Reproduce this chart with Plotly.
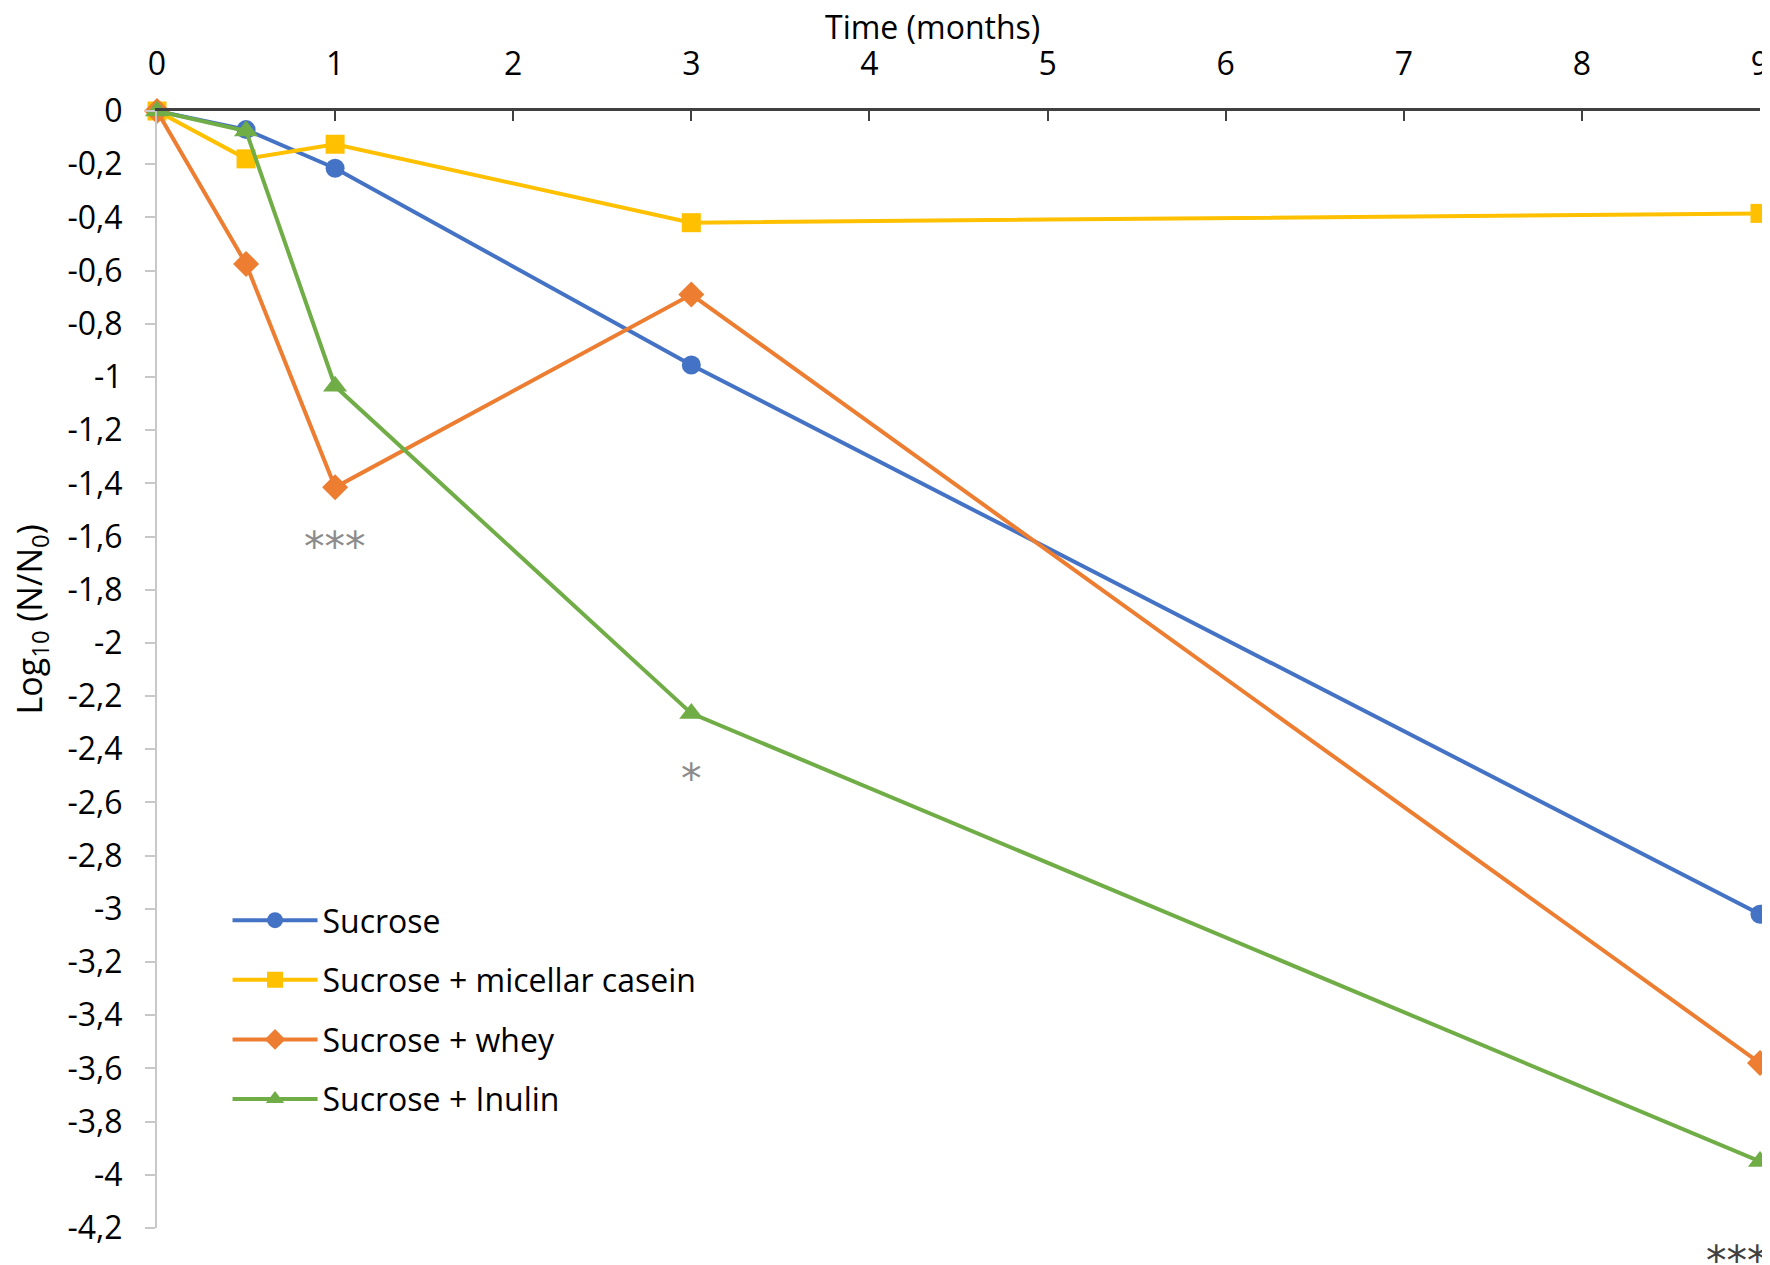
import plotly.graph_objects as go

months = [0, 0.5, 1, 3, 9]
sucrose = [0, -0.07, -0.215, -0.955, -3.02]
casein = [0, -0.18, -0.125, -0.42, -0.385]
whey = [0, -0.575, -1.415, -0.69, -3.58]
inulin = [0, -0.075, -1.035, -2.265, -3.95]

series_names = ["Sucrose", "Sucrose + micellar casein", "Sucrose + whey", "Sucrose + Inulin"]
series_values = [sucrose, casein, whey, inulin]
colors = ["#4472C4", "#FFC000", "#ED7D31", "#70AD47"]
symbols = ["circle", "square", "diamond", "triangle-up"]
sizes = [19, 19, 20, 21]

x_ticks = [0, 1, 2, 3, 4, 5, 6, 7, 8, 9]
y_tickvals = [0, -0.2, -0.4, -0.6, -0.8, -1, -1.2, -1.4, -1.6, -1.8, -2, -2.2, -2.4,
              -2.6, -2.8, -3, -3.2, -3.4, -3.6, -3.8, -4, -4.2]
y_ticktext = ["0", "-0,2", "-0,4", "-0,6", "-0,8", "-1", "-1,2", "-1,4", "-1,6", "-1,8",
              "-2", "-2,2", "-2,4", "-2,6", "-2,8", "-3", "-3,2", "-3,4", "-3,6", "-3,8",
              "-4", "-4,2"]

# significance marks: x in months, y in data units (or paper units for the last one)
sig_x = [1, 3, 8.87]
sig_y = [-1.64, -2.51, -0.053]
sig_yref = ["y", "y", "paper"]
sig_text = ["***", "*", "***"]
sig_color = ["#8c8c8c", "#8c8c8c", "#404040"]

FONT = "Open Sans"

fig = go.Figure()
for name, vals, c, s, sz in zip(series_names, series_values, colors, symbols, sizes):
    fig.add_trace(go.Scatter(
        x=months, y=vals, name=name, mode="lines+markers",
        line=dict(color=c, width=4),
        marker=dict(color=c, symbol=s, size=sz),
        legendgroup=name,
        cliponaxis=False,
    ))

for xv, yv, yr, t, c in zip(sig_x, sig_y, sig_yref, sig_text, sig_color):
    fig.add_annotation(x=xv, y=yv, xref="x", yref=yr, text=t, showarrow=False,
                       font=dict(family="DejaVu Sans", size=41, color=c))

fig.add_annotation(text="Time (months)", xref="paper", yref="paper",
                   x=0.4835, y=1.0958, xanchor="center", yanchor="top", borderpad=0,
                   showarrow=False, font=dict(family=FONT, size=32, color="black"))
fig.add_annotation(text="Log<sub>10</sub> (N/N<sub>0</sub>)", xref="paper", yref="paper",
                   x=-0.0785, y=0.545, xanchor="center", yanchor="middle", textangle=-90,
                   showarrow=False, font=dict(family=FONT, size=34, color="black"))

fig.update_layout(
    width=1770, height=1265,
    margin=dict(l=149, r=18, t=103, b=45, autoexpand=False),
    paper_bgcolor="white", plot_bgcolor="white",
    font=dict(family=FONT, size=31, color="black"),
    showlegend=True,
    legend=dict(
        x=0.044, y=0.300, xanchor="left", yanchor="top",
        traceorder="grouped", tracegroupgap=15,
        font=dict(family=FONT, size=32, color="black"),
        bgcolor="rgba(0,0,0,0)", itemwidth=85,
    ),
    xaxis=dict(
        side="top", range=[0, 9], tickvals=x_ticks, automargin=False,
        showgrid=False, zeroline=False,
        showline=True, linecolor="#404040", linewidth=2.5,
        ticks="inside", ticklen=10, tickwidth=2, tickcolor="#404040",
        tickfont=dict(family=FONT, size=32),
        ticklabelstandoff=20,
    ),
    yaxis=dict(
        range=[-4.2, 0], tickvals=y_tickvals, ticktext=y_ticktext, automargin=False,
        showgrid=False, zeroline=False,
        showline=True, linecolor="#c8c8c8", linewidth=2,
        ticks="outside", ticklen=10, tickwidth=2, tickcolor="#c8c8c8",
        tickfont=dict(family=FONT, size=32),
        ticklabelstandoff=16,
    ),
)

fig.write_html("out.html")
